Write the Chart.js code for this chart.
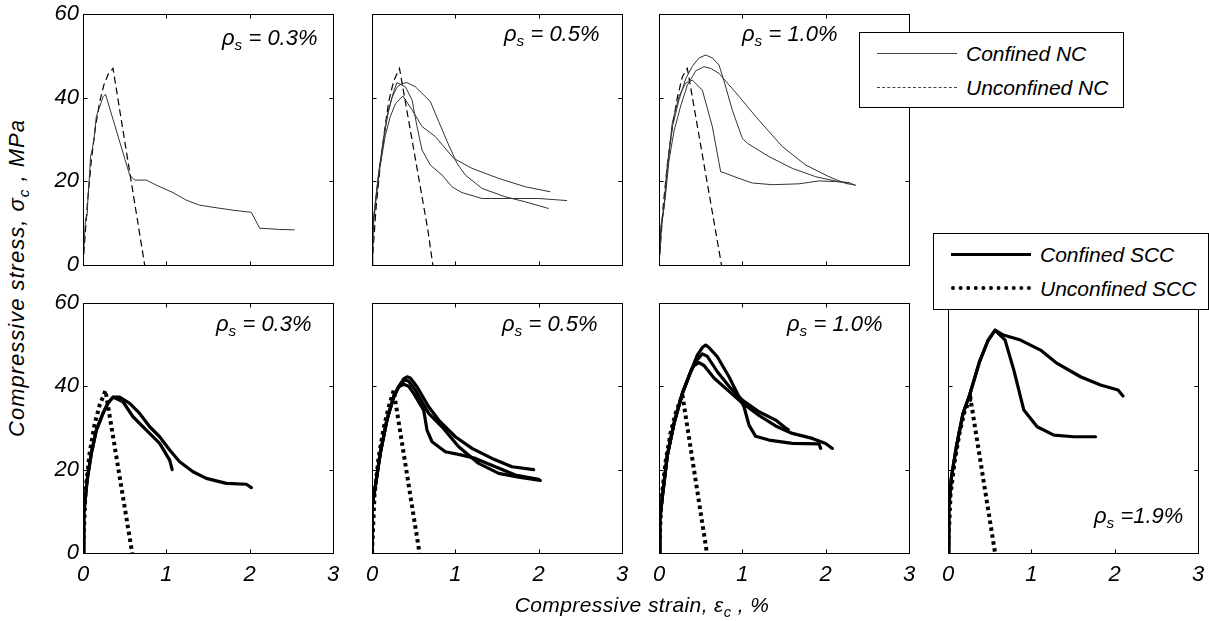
<!DOCTYPE html>
<html>
<head>
<meta charset="utf-8">
<script src="https://cdn.jsdelivr.net/npm/chart.js"></script>
<style>
body { margin:0; width:1209px; height:621px; background:#fff; position:relative; overflow:hidden;
       font-family:"Liberation Sans", Arial, sans-serif; font-style:italic; color:#000; }
canvas { position:absolute; }
.ann { position:absolute; font-size:22px; white-space:nowrap; line-height:1; }
.ann sub, .ttl sub { font-size:0.7em; vertical-align:-0.35em; line-height:0; }
.ttl { position:absolute; font-size:21px; white-space:nowrap; line-height:1; }
.legend { position:absolute; background:#fff; border:1px solid #000; box-sizing:border-box; }
.legend .row { position:absolute; left:0; right:0; height:24px; }
.legend .smp { position:absolute; left:17px; width:80px; top:11px; height:0; }
.legend .txt { position:absolute; left:106px; top:0; font-size:21px; line-height:24px; white-space:nowrap; }
</style>
</head>
<body>

<canvas id="p1" width="310" height="311"></canvas>
<canvas id="p2" width="310" height="311"></canvas>
<canvas id="p3" width="310" height="311"></canvas>
<canvas id="p4" width="310" height="310"></canvas>
<canvas id="p5" width="310" height="310"></canvas>
<canvas id="p6" width="310" height="310"></canvas>
<canvas id="p7" width="310" height="310"></canvas>

<div class="ann" style="left:222px; top:27px;">&rho;<sub>s</sub> = 0.3%</div>
<div class="ann" style="left:504px; top:23px;">&rho;<sub>s</sub> = 0.5%</div>
<div class="ann" style="left:742px; top:23px;">&rho;<sub>s</sub> = 1.0%</div>
<div class="ann" style="left:216px; top:313px;">&rho;<sub>s</sub> = 0.3%</div>
<div class="ann" style="left:502px; top:313px;">&rho;<sub>s</sub> = 0.5%</div>
<div class="ann" style="left:787px; top:313px;">&rho;<sub>s</sub> = 1.0%</div>
<div class="ann" style="left:1094px; top:505px;">&rho;<sub>s</sub> =1.9%</div>

<div class="legend" style="left:859px; top:32px; width:265px; height:76px;">
  <div class="row" style="top:9px;"><div class="smp" style="border-top:1px solid #444;"></div><div class="txt">Confined NC</div></div>
  <div class="row" style="top:43px;"><div class="smp" style="border-top:1px dashed #444;"></div><div class="txt">Unconfined NC</div></div>
</div>
<div class="legend" style="left:933px; top:233px; width:276px; height:77px;">
  <div class="row" style="top:9px;"><div class="smp" style="border-top:3px solid #000; top:10px;"></div><div class="txt">Confined SCC</div></div>
  <div class="row" style="top:43px;"><div class="smp" style="border-top:4px dotted #000; top:9px;"></div><div class="txt">Unconfined SCC</div></div>
</div>

<div class="ttl" style="left:17px; top:278px; font-size:22px; letter-spacing:1px; transform:translate(-50%,-50%) rotate(-90deg);">Compressive stress, &sigma;<sub>c</sub> , MPa</div>
<div class="ttl" style="left:642px; top:604px; letter-spacing:0.4px; transform:translate(-50%,-50%);">Compressive strain, &epsilon;<sub>c</sub> , %</div>

<script>
// tick values
var xTicks = [0, 1, 2, 3];
var yTicks = [0, 20, 40, 60];

// ---- normal concrete (NC), strain % / stress MPa ----
var ncConf03 = [[0,0],[0.02,7.6],[0.03,10.8],[0.05,12],[0.06,16.3],[0.08,22],[0.09,25.9],[0.11,27.5],[0.13,29.9],[0.16,35.5],[0.2,37.8],[0.24,40.2],[0.27,40.8],[0.29,39.5],[0.56,21.5],[0.62,20.3],[0.76,20.3],[0.88,19.1],[1.08,17.3],[1.24,15.5],[1.4,14.3],[1.56,13.8],[1.8,13.1],[2.02,12.6],[2.12,8.8],[2.36,8.5],[2.54,8.4]];
var ncUnc03 = [[0,0],[0.05,14],[0.1,25],[0.15,33],[0.2,39],[0.25,43],[0.3,45.5],[0.36,47],[0.74,0]];

var ncConf05a = [[0,0],[0,8.4],[0.04,14.8],[0.08,21.9],[0.14,29.9],[0.18,35.5],[0.24,40],[0.3,42.5],[0.36,43.4],[0.42,43.6],[0.52,42.6],[0.7,39.1],[0.8,34.3],[0.92,28.7],[1.02,24.3],[1.12,21.5],[1.32,18.3],[1.6,16.3],[1.84,15.1],[2.12,13.5]];
var ncConf05b = [[0,0],[0.02,10],[0.06,18],[0.1,24],[0.16,31],[0.22,35.5],[0.28,38.5],[0.37,40.4],[0.48,37.1],[0.6,33.1],[0.76,30.7],[0.98,25.5],[1.2,23.1],[1.52,20.7],[1.84,18.7],[2.14,17.5]];
var ncConf05c = [[0,0],[0.01,9],[0.04,15],[0.08,22],[0.14,30.5],[0.2,37],[0.26,41.5],[0.3,43.6],[0.4,42.6],[0.48,39.5],[0.54,33.1],[0.6,27.5],[0.7,23.9],[0.84,21.5],[0.96,18.7],[1.08,17.3],[1.32,15.9],[2.0,15.9],[2.34,15.4]];
var ncUnc05 = [[0,0],[0.05,14],[0.1,24],[0.15,32],[0.2,39],[0.26,44],[0.33,47],[0.67,8.4],[0.73,0]];

var ncConf10a = [[0,0],[0.02,9],[0.06,14],[0.1,23.5],[0.16,33],[0.24,39.5],[0.32,44.5],[0.4,47.5],[0.48,49.5],[0.56,50.2],[0.64,49.5],[0.72,47.8],[0.78,44],[0.88,37],[1.0,30.3],[1.06,29.1],[1.32,25.9],[1.6,23.1],[1.88,21.1],[2.16,19.9],[2.28,19.6]];
var ncConf10b = [[0,0],[0.03,9],[0.08,17],[0.12,25],[0.18,32],[0.26,38],[0.34,43],[0.44,46.4],[0.54,47.4],[0.62,47],[0.72,45.8],[0.96,40.3],[1.16,35.5],[1.48,28.3],[1.76,23.9],[2.04,21.1],[2.24,19.5],[2.36,19.1]];
var ncConf10c = [[0,0],[0.02,8],[0.06,13.9],[0.1,23.5],[0.16,34],[0.24,40.3],[0.32,43.5],[0.4,44.2],[0.52,41.8],[0.64,33.1],[0.74,22.3],[0.8,21.9],[0.96,20.7],[1.12,19.6],[1.36,19.2],[1.68,19.4],[1.92,20.1],[2.16,19.9],[2.28,19.7],[2.36,19.0]];
var ncUnc10 = [[0,0],[0.05,14],[0.1,24],[0.16,33],[0.22,40],[0.28,45],[0.34,47],[0.75,0]];

// ---- self-compacting concrete (SCC) ----
var sccConf03a = [[0,0],[0.01,9.5],[0.05,17.5],[0.1,23.9],[0.16,29.5],[0.24,33.5],[0.3,36],[0.36,37.4],[0.48,36.3],[0.6,32.7],[0.76,29.5],[0.92,26.3],[1.04,22.3],[1.07,20.0]];
var sccConf03b = [[0,0],[0.01,9.5],[0.05,17.5],[0.1,23.9],[0.16,29.5],[0.24,33.5],[0.3,36],[0.36,37.4],[0.44,37.4],[0.56,35.9],[0.68,33.5],[0.8,30.3],[0.92,27.9],[1.04,24.7],[1.16,21.9],[1.32,19.5],[1.48,17.9],[1.72,16.7],[1.96,16.5],[2.02,15.7]];
var sccUnc03 = [[0,0],[0.03,15],[0.08,24],[0.14,31],[0.2,35.5],[0.27,39],[0.59,0]];

var sccConf05a = [[0,0],[0,11],[0.04,16],[0.1,24],[0.18,32],[0.26,37.5],[0.32,39.9],[0.38,41.8],[0.42,42.3],[0.46,42],[0.54,39.9],[0.68,35.1],[0.8,31.9],[1.0,27.9],[1.2,25.1],[1.44,22.7],[1.68,20.7],[1.94,20.0]];
var sccConf05b = [[0,0],[0,11],[0.04,16],[0.1,24],[0.18,32],[0.26,37.5],[0.32,39.9],[0.36,41],[0.4,41.5],[0.44,41.2],[0.52,39.1],[0.68,33.5],[0.84,30.3],[1.04,25.5],[1.28,21.5],[1.52,19.1],[1.76,18.2],[2.02,17.4]];
var sccConf05c = [[0,0],[0,11],[0.04,16],[0.1,24],[0.18,32],[0.26,37.5],[0.32,39.9],[0.38,40.5],[0.44,40],[0.5,38.3],[0.62,34.3],[0.66,29.5],[0.72,26.7],[0.88,24.3],[1.08,23.5],[1.24,22.7],[1.48,20.7],[1.72,18.7],[2.0,17.7]];
var sccUnc05 = [[0,0],[0.03,14],[0.08,23],[0.14,30],[0.2,35],[0.26,39],[0.57,0]];

var sccConf10a = [[0,0],[0.01,8],[0.04,13.5],[0.1,23.4],[0.18,31.1],[0.28,38.3],[0.38,43.5],[0.46,47.5],[0.52,49.3],[0.56,49.9],[0.6,49.3],[0.7,47.1],[0.84,42.3],[0.96,37.5],[1.02,35.1],[1.08,30.7],[1.16,28],[1.32,27.1],[1.6,26.3],[1.92,26.2],[1.94,25.1]];
var sccConf10b = [[0,0],[0.01,8],[0.04,13.5],[0.1,23.4],[0.18,31.1],[0.28,38.3],[0.38,43.5],[0.44,46],[0.52,47.8],[0.58,47.2],[0.7,43.5],[0.84,40],[1.0,36.7],[1.2,33.9],[1.4,31.9],[1.52,30.0],[1.55,29.6]];
var sccConf10c = [[0,0],[0.01,8],[0.04,13.5],[0.1,23.4],[0.18,31.1],[0.28,38.3],[0.38,43.5],[0.42,45],[0.48,45.7],[0.54,45],[0.66,42],[0.8,39.5],[1.0,36],[1.2,33],[1.4,30.5],[1.6,28.7],[1.84,27.5],[2.0,26.3],[2.08,25.1]];
var sccUnc10 = [[0,0],[0.03,13],[0.08,22],[0.14,29],[0.2,33.5],[0.28,38],[0.575,0]];

var sccConf19a = [[0,0],[0.01,11],[0.04,18],[0.1,25.5],[0.18,33.5],[0.26,38],[0.38,46],[0.48,51],[0.565,53.5],[0.665,52.3],[0.87,51.1],[1.11,48.7],[1.31,45.5],[1.59,42.3],[1.83,40.3],[2.04,39.1],[2.1,37.7]];
var sccConf19b = [[0,0],[0.01,11],[0.04,18],[0.1,25.5],[0.18,33.5],[0.26,38],[0.38,46],[0.48,51],[0.565,53.5],[0.685,51.1],[0.79,43.9],[0.91,34.3],[1.07,30.3],[1.27,28.3],[1.51,27.9],[1.77,27.9]];
var sccUnc19 = [[0,0],[0.03,14],[0.08,22],[0.14,29],[0.2,34],[0.27,37],[0.565,0]];

function pts(arr) { return arr.map(function(p) { return { x: p[0], y: p[1] }; }); }

function ncConf(arr) { return { data: pts(arr), borderColor: '#333', borderWidth: 1 }; }
function ncUnc(arr) { return { data: pts(arr), borderColor: '#000', borderWidth: 1.2, borderDash: [7, 4] }; }
function sccConf(arr) { return { data: pts(arr), borderColor: '#000', borderWidth: 3.2, borderJoinStyle: 'round', borderCapStyle: 'round' }; }
function sccUnc(arr) { return { data: pts(arr), borderColor: '#000', borderWidth: 4, borderDash: [3.5, 3.5] }; }

// box with inward ticks, matlab style
var framePlugin = {
  id: 'frame',
  afterDraw: function(chart) {
    var a = chart.chartArea, ctx = chart.ctx;
    var xs = chart.scales.x, ys = chart.scales.y;
    var L = Math.round(a.left) + 0.5, R = Math.round(a.right) + 0.5;
    var T = Math.round(a.top) + 0.5, B = Math.round(a.bottom) + 0.5;
    ctx.save();
    ctx.strokeStyle = '#000';
    ctx.lineWidth = 1;
    ctx.strokeRect(L, T, R - L, B - T);
    ctx.beginPath();
    xs.ticks.forEach(function(t) {
      var p = Math.round(xs.getPixelForValue(t.value)) + 0.5;
      ctx.moveTo(p, B); ctx.lineTo(p, B - 4);
      ctx.moveTo(p, T); ctx.lineTo(p, T + 4);
    });
    ys.ticks.forEach(function(t) {
      var p = Math.round(ys.getPixelForValue(t.value)) + 0.5;
      ctx.moveTo(L, p); ctx.lineTo(L + 4, p);
      ctx.moveTo(R, p); ctx.lineTo(R - 4, p);
    });
    ctx.stroke();
    ctx.restore();
  }
};

function axis(isX, showLabels) {
  var vals = isX ? xTicks : yTicks;
  return {
    type: 'linear',
    min: vals[0],
    max: vals[vals.length - 1],
    afterBuildTicks: function(s) { s.ticks = vals.map(function(v) { return { value: v }; }); },
    ticks: {
      display: showLabels,
      padding: isX ? 9 : 4,
      color: '#000',
      font: { family: 'Liberation Sans', size: 22, style: 'italic' }
    },
    grid: { display: false, drawTicks: false },
    border: { display: false },
    afterFit: function(s) {
      if (isX) s.height = 45; else s.width = 45;
      s.paddingLeft = s.paddingRight = s.paddingTop = s.paddingBottom = 0;
    }
  };
}

function makePanel(id, left, top, datasets, showY, showX) {
  var cv = document.getElementById(id);
  cv.style.left = (left - 45) + 'px';
  cv.style.top = (top - 15) + 'px';
  datasets.forEach(function(d) { d.showLine = true; d.pointRadius = 0; d.fill = false; d.tension = 0; });
  new Chart(cv, {
    type: 'scatter',
    data: { datasets: datasets },
    options: {
      responsive: false,
      animation: false,
      layout: { padding: { top: 15, right: 15, left: 0, bottom: 0 } },
      plugins: { legend: { display: false }, tooltip: { enabled: false } },
      scales: { x: axis(true, showX), y: axis(false, showY) }
    },
    plugins: [framePlugin]
  });
}

makePanel('p1', 83, 14, [ncConf(ncConf03), ncUnc(ncUnc03)], true, false);
makePanel('p2', 372, 14, [ncConf(ncConf05a), ncConf(ncConf05b), ncConf(ncConf05c), ncUnc(ncUnc05)], false, false);
makePanel('p3', 659, 14, [ncConf(ncConf10a), ncConf(ncConf10b), ncConf(ncConf10c), ncUnc(ncUnc10)], false, false);
makePanel('p4', 83, 303, [sccConf(sccConf03a), sccConf(sccConf03b), sccUnc(sccUnc03)], true, true);
makePanel('p5', 372, 303, [sccConf(sccConf05a), sccConf(sccConf05b), sccConf(sccConf05c), sccUnc(sccUnc05)], false, true);
makePanel('p6', 659, 303, [sccConf(sccConf10a), sccConf(sccConf10b), sccConf(sccConf10c), sccUnc(sccUnc10)], false, true);
makePanel('p7', 948, 303, [sccConf(sccConf19a), sccConf(sccConf19b), sccUnc(sccUnc19)], false, true);
</script>
</body>
</html>
